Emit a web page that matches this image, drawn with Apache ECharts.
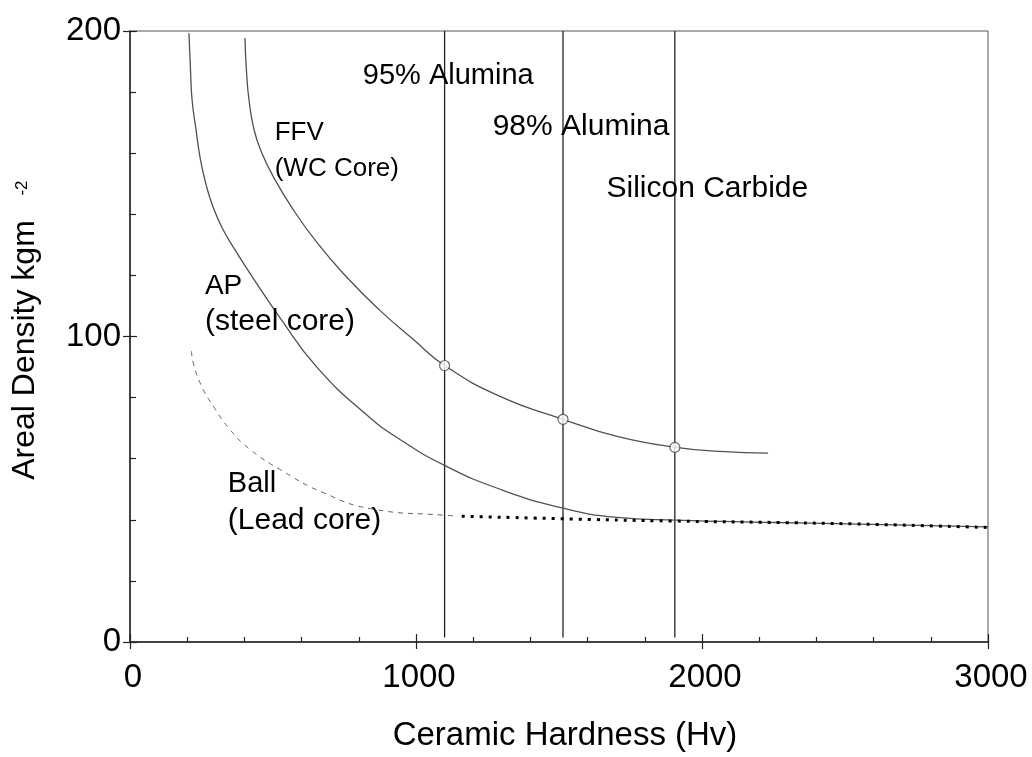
<!DOCTYPE html>
<html>
<head>
<meta charset="utf-8">
<script src="https://cdn.jsdelivr.net/npm/echarts@6/dist/echarts.min.js"></script>
<style>
  html, body { margin: 0; padding: 0; background: #fff; }
  #chart { width: 1032px; height: 757px; }
</style>
</head>
<body>
<div id="chart"></div>
<script>
// hardness of the three ceramics (vertical lines)
var hardness = [1100, 1514, 1905];

// FFV (WC core) curve, [hardness, areal density]
var ffvCurve = [[402, 197.7], [407, 187.3], [416, 177.5], [434, 167.6], [461, 160.1],
  [503, 152], [566, 142.2], [654, 130.7], [759, 119.3], [871, 108.8], [991, 99],
  [1100, 90.5], [1294, 80.4], [1514, 72.9], [1703, 67.3], [1909, 63.7], [2063, 62.4],
  [2231, 61.8]];
var ffvMarks = [[1100, 90.5], [1514, 72.9], [1905, 63.7]];

// AP (steel core)
var apCurve = [[206, 199.3], [211.5, 187.3], [217, 177.5], [231, 167.6], [246.5, 157.8],
  [266, 149.7], [290, 142.5], [322, 135.6], [360, 129.4], [434, 118.6], [524, 106.2],
  [654, 89.9], [829, 74.2], [944, 66.3], [1100, 57.8], [1294, 50], [1514, 43.8],
  [1703, 40.8], [1909, 39.9], [2203, 39.2], [2552, 38.6], [3000, 37.7]];

// Ball (lead core): dashed part then dotted part
var ballDashed = [[215, 95.2], [221, 91.4], [250, 83.8], [291, 77.2], [349, 69.6], [419, 63.1],
  [524, 56.5], [675, 48.9], [850, 43.5], [1098, 41.5], [1142, 41.3]];
var ballDotted = [[1160, 41.2], [1572, 40.2], [1897, 39.6], [2270, 39.1], [2600, 38.5], [2995, 37.5]];

// text notes: text, x, y, font size
var notes = [
  ['95% Alumina', 814, 185.4, 29],
  ['98% Alumina', 1268, 168.5, 30],
  ['Silicon Carbide', 1666, 148.3, 30],
  ['FFV', 506, 166.8, 26],
  ['(WC Core)', 506, 155, 26],
  ['AP', 262, 116.3, 28],
  ['(steel core)', 262, 104.8, 30],
  ['Ball', 342, 51.8, 29],
  ['(Lead core)', 342, 39.8, 30]
];

var FONT = 'Liberation Sans, Arial, sans-serif';
var curveColor = '#505050';

var chart = echarts.init(document.getElementById('chart'), null, { renderer: 'canvas' });

function curve(name, data, style) {
  return {
    name: name, type: 'line', data: data, smooth: 0.5,
    showSymbol: false, silent: true, lineStyle: style
  };
}

var series = [];
// vertical material lines
hardness.forEach(function (h) {
  series.push({
    type: 'line', data: [[h, 1.5], [h, 200]], showSymbol: false, silent: true,
    lineStyle: { color: '#222', width: 1.3 }, z: 2
  });
});
series.push(curve('FFV', ffvCurve, { color: curveColor, width: 1.3 }));
series.push(curve('AP', apCurve, { color: curveColor, width: 1.3 }));
series.push(curve('Ball', ballDashed, { color: '#666', width: 1, type: [5, 5] }));
var dotted = curve('Ball2', ballDotted, { color: '#000', width: 3, type: [3, 6] });
dotted.z = 3;
series.push(dotted);
series.push({
  type: 'scatter', data: ffvMarks, symbol: 'circle', symbolSize: 10, silent: true,
  itemStyle: { color: '#fff', borderColor: '#444', borderWidth: 1.2 }, z: 5
});

var plain = function (v) { return String(v); };

var option = {
  animation: false,
  backgroundColor: '#fff',
  grid: { left: 130, right: 44, top: 31, bottom: 114, show: true, borderColor: '#555', borderWidth: 1 },
  xAxis: [{
    type: 'value', min: 0, max: 3000, interval: 1000,
    axisLine: { lineStyle: { color: '#222', width: 1.5 } },
    axisTick: { inside: false, length: 7, lineStyle: { color: '#222', width: 1.2 } },
    axisLabel: { fontSize: 33, color: '#000', fontFamily: FONT, margin: 19, padding: [0, 0, 0, 6], formatter: plain },
    splitLine: { show: false },
    name: 'Ceramic Hardness (Hv)', nameLocation: 'middle', nameGap: 77,
    nameTextStyle: { fontSize: 33, color: '#000', fontFamily: FONT, padding: [0, 0, 0, 12] }
  }, {
    type: 'value', min: 0, max: 3000, interval: 1000, position: 'bottom',
    axisLine: { show: false },
    axisTick: { inside: true, length: 8, lineStyle: { color: '#222', width: 1.2 } },
    minorTick: { show: true, splitNumber: 5, length: 5, lineStyle: { color: '#222', width: 1.2 } },
    axisLabel: { show: false }, splitLine: { show: false }
  }],
  yAxis: [{
    type: 'value', min: 0, max: 200, interval: 100,
    axisLine: { lineStyle: { color: '#222', width: 1.5 } },
    axisTick: { inside: false, length: 7, lineStyle: { color: '#222', width: 1.2 } },
    axisLabel: { fontSize: 33, color: '#000', fontFamily: FONT, margin: 9, padding: [0, 0, 12, 0], formatter: plain },
    splitLine: { show: false }
  }, {
    type: 'value', min: 0, max: 200, interval: 100, position: 'left',
    axisLine: { show: false },
    axisTick: { inside: true, length: 7, lineStyle: { color: '#222', width: 1.2 } },
    minorTick: { show: true, splitNumber: 5, length: 6, lineStyle: { color: '#222', width: 1.2 } },
    axisLabel: { show: false }, splitLine: { show: false }
  }],
  series: series
};

chart.setOption(option);

// y axis title (rotated) and the text notes placed at data coordinates
var graphics = [{
  type: 'text', x: 25, y: 350, rotation: Math.PI / 2, silent: true,
  style: { text: 'Areal Density kgm', font: '32px ' + FONT, fill: '#000',
    textAlign: 'center', textVerticalAlign: 'middle' }
}, {
  type: 'text', x: 22, y: 188, rotation: Math.PI / 2, silent: true,
  style: { text: '-2', font: '17px ' + FONT, fill: '#000',
    textAlign: 'center', textVerticalAlign: 'middle' }
}];
notes.forEach(function (n) {
  var p = chart.convertToPixel({ xAxisIndex: 0, yAxisIndex: 0 }, [n[1], n[2]]);
  graphics.push({
    type: 'text', x: p[0], y: p[1], silent: true, z: 10,
    style: { text: n[0], font: n[3] + 'px ' + FONT, fill: '#000',
      textAlign: 'left', textVerticalAlign: 'middle' }
  });
});
chart.setOption({ graphic: graphics });
</script>
</body>
</html>
